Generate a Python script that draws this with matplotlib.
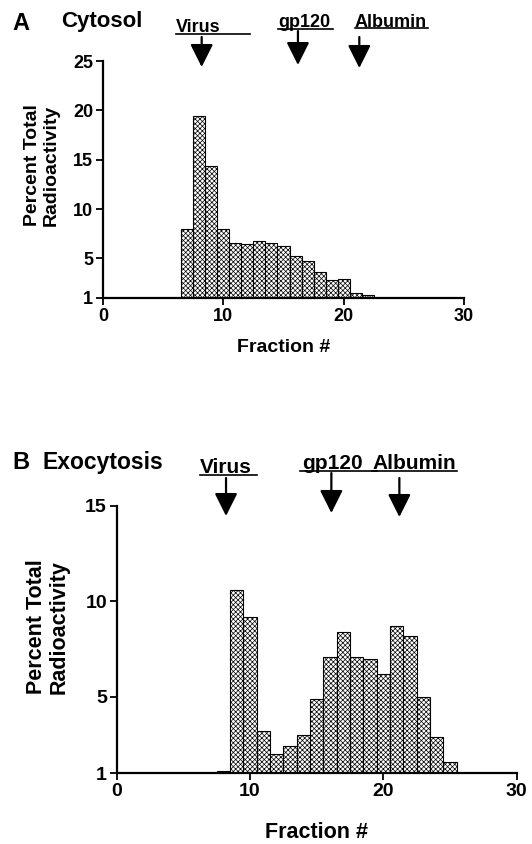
import numpy as np
import matplotlib
matplotlib.use('Agg')
import matplotlib.pyplot as plt
from matplotlib.lines import Line2D

plt.rcParams['font.family'] = ['Liberation Sans', 'DejaVu Sans']
plt.rcParams['font.weight'] = 'bold'
plt.rcParams['hatch.linewidth'] = 0.5

#%% data
cyto_frac = [7, 8, 9, 10, 11, 12, 13, 14, 15, 16, 17, 18, 19, 20, 21, 22]
cyto_pct = [8.0, 19.4, 14.4, 8.0, 6.6, 6.5, 6.8, 6.6, 6.3, 5.3, 4.7, 3.6, 2.8, 2.9, 1.5, 1.3]

exo_frac = [8, 9, 10, 11, 12, 13, 14, 15, 16, 17, 18, 19, 20, 21, 22, 23, 24, 25]
exo_pct = [1.1, 10.6, 9.2, 3.2, 2.0, 2.4, 3.0, 4.9, 7.1, 8.4, 7.1, 7.0, 6.2, 8.7, 8.2, 5.0, 2.9, 1.6]

markers = ['Virus', 'gp120', 'Albumin']
marker_pos_a = [8.2, 16.2, 21.3]
marker_pos_b = [8.2, 16.1, 21.2]

W, H = 532, 844
def fx(px):
    return px / W
def fy(py):
    return 1 - py / H

fig = plt.figure(figsize=(W / 100, H / 100), dpi=100)

def style_axis(ax, ytop, yticks, fs):
    ax.set_xlim(0, 30)
    ax.set_ylim(1, ytop)
    ax.set_xticks([0, 10, 20, 30])
    ax.set_yticks(yticks)
    for s in ['top', 'right']:
        ax.spines[s].set_visible(False)
    for s in ['left', 'bottom']:
        ax.spines[s].set_linewidth(1.6)
    ax.tick_params(length=5, width=1.3, labelsize=fs, pad=2)
    for lab in ax.get_xticklabels() + ax.get_yticklabels():
        lab.set_fontweight('bold')

def draw_header(ax, pos, tails, tips, labels):
    # labels: (x, baseline, underline x0, x1, size)
    for name, p, t0, t1, (lx, base, u0, u1, fs) in zip(markers, pos, tails, tips, labels):
        fig.text(fx(lx), fy(base), name, fontsize=fs, ha='left', va='baseline')
        fig.add_artist(Line2D([fx(u0), fx(u1)], [fy(base + 1.5), fy(base + 1.5)],
                              color='black', lw=1.2))
        ax.annotate('', xy=(p, fy(t1)), xytext=(p, fy(t0)),
                    xycoords=('data', 'figure fraction'),
                    textcoords=('data', 'figure fraction'),
                    arrowprops=dict(arrowstyle='-|>,head_length=0.7,head_width=0.35',
                                    color='black', lw=1.6, mutation_scale=20,
                                    shrinkA=0, shrinkB=0),
                    annotation_clip=False)

#%% panel A - cytosol
ax1 = fig.add_axes([fx(103), fy(298), fx(464) - fx(103), fy(61) - fy(298)])
ax1.bar(cyto_frac, cyto_pct, width=1, color='white', edgecolor='black',
        hatch='xxxxxxx', linewidth=0.8)
style_axis(ax1, 25, [1, 5, 10, 15, 20, 25], 13)

fig.text(fx(12), fy(23), 'A', fontsize=17, ha='left', va='center')
fig.text(fx(61), fy(22), 'Cytosol', fontsize=16, ha='left', va='center')
draw_header(ax1, marker_pos_a, [37, 31, 37], [67, 65, 68],
            [(176, 32.3, 176, 250, 13), (278, 27, 278, 333, 13), (355, 26.7, 355, 428, 13)])
fig.text(fx(42), fy(165), 'Percent Total\nRadioactivity', rotation=90,
         ha='center', va='center', fontsize=14, linespacing=1.1)
fig.text(fx(283.5), fy(348), 'Fraction #', ha='center', va='center', fontsize=14)

#%% panel B - exocytosis
ax2 = fig.add_axes([fx(116.7), fy(773), fx(516.7) - fx(116.7), fy(506) - fy(773)])
ax2.bar(exo_frac, exo_pct, width=1, color='white', edgecolor='black',
        hatch='xxxxxxx', linewidth=0.8)
style_axis(ax2, 15, [1, 5, 10, 15], 14)

fig.text(fx(12), fy(462), 'B', fontsize=17, ha='left', va='center')
fig.text(fx(43), fy(462), 'Exocytosis', fontsize=16.5, ha='left', va='center')
draw_header(ax2, marker_pos_b, [478, 473, 478], [516, 513, 517],
            [(200, 473, 200, 257, 15), (302, 469, 300, 377, 15), (372, 469, 372, 457, 15)])
fig.text(fx(48), fy(627), 'Percent Total\nRadioactivity', rotation=90,
         ha='center', va='center', fontsize=15.5, linespacing=1.1)
fig.text(fx(316.7), fy(832), 'Fraction #', ha='center', va='center', fontsize=15.5)

fig.savefig('out.png', dpi=100)
